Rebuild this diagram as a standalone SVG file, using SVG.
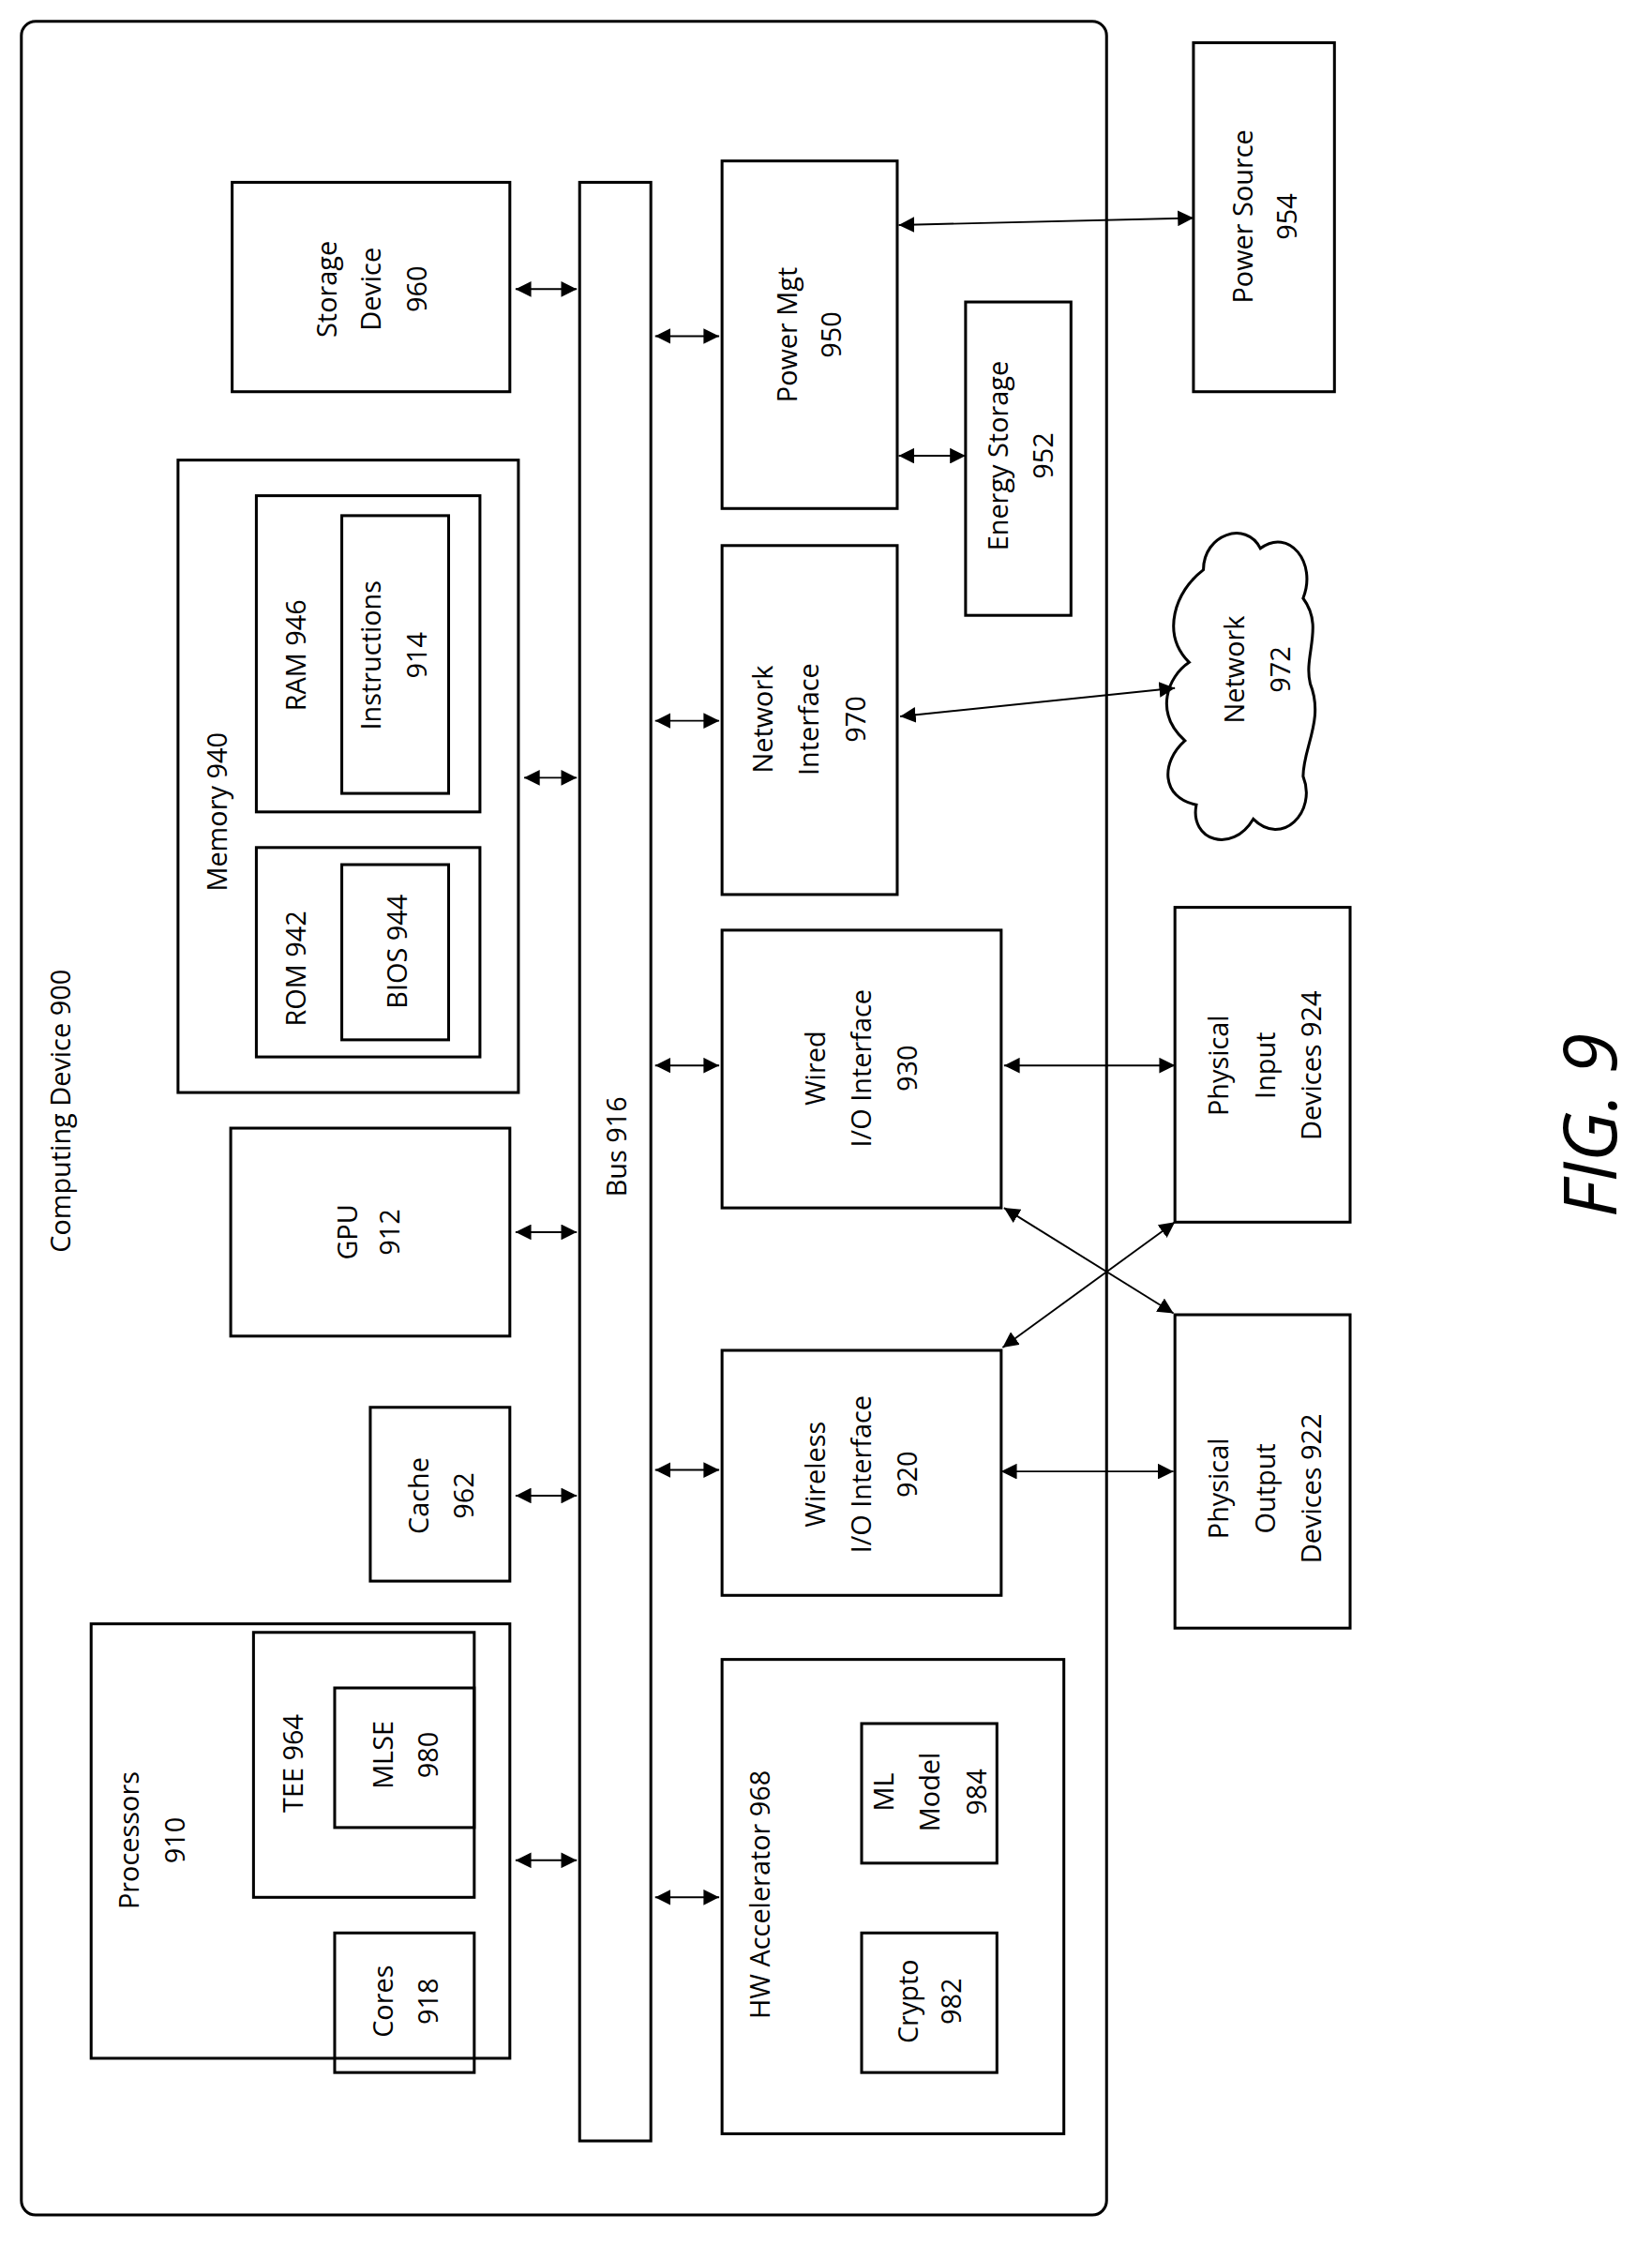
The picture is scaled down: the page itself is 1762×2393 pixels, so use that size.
<svg xmlns="http://www.w3.org/2000/svg" width="1762" height="2393" viewBox="0 0 1762 2393">
<style>
.b{fill:none;stroke:#000;stroke-width:2}
.t{font-family:"Open Sans","Liberation Sans",sans-serif;font-size:19px;text-anchor:middle;dominant-baseline:central;fill:#000}
.c{stroke:#000;stroke-width:1.3;fill:none}
</style>
<defs>
<marker id="a" viewBox="0 0 10 10" refX="10" refY="5" markerWidth="11" markerHeight="11" markerUnits="userSpaceOnUse" orient="auto-start-reverse"><path d="M0,0L10,5L0,10z" fill="#000"/></marker>
</defs>
<rect width="1762" height="2393" fill="#fff"/>
<g transform="scale(1.519)">
<g id="device"><rect class="b" x="15" y="15" width="762" height="1540" rx="10"/><text class="t" transform="translate(42,780) rotate(-90)">Computing Device 900</text></g>
<g id="bus"><rect class="b" x="407" y="128" width="50" height="1375"/><text class="t" transform="translate(432,805) rotate(-90)">Bus 916</text></g>
<g id="storage"><rect class="b" x="163" y="128" width="195" height="147"/><text class="t" transform="translate(229,203) rotate(-90)">Storage</text><text class="t" transform="translate(260,203) rotate(-90)">Device</text><text class="t" transform="translate(292,203) rotate(-90)">960</text></g>
<g id="memory"><rect class="b" x="125" y="323" width="239" height="444"/><text class="t" transform="translate(152,570) rotate(-90)">Memory  940</text>
<rect class="b" x="180" y="348" width="157" height="222"/><text class="t" transform="translate(207,460) rotate(-90)">RAM  946</text>
<rect class="b" x="240" y="362" width="75" height="195"/><text class="t" transform="translate(260,460) rotate(-90)">Instructions</text><text class="t" transform="translate(292,460) rotate(-90)">914</text>
<rect class="b" x="180" y="595" width="157" height="147"/><text class="t" transform="translate(207,680) rotate(-90)">ROM  942</text>
<rect class="b" x="240" y="607" width="75" height="123"/><text class="t" transform="translate(278,668) rotate(-90)">BIOS 944</text></g>
<g id="gpu"><rect class="b" x="162" y="792" width="196" height="146"/><text class="t" transform="translate(243,865) rotate(-90)">GPU</text><text class="t" transform="translate(273,865) rotate(-90)">912</text></g>
<g id="cache"><rect class="b" x="260" y="988" width="98" height="122"/><text class="t" transform="translate(293,1050) rotate(-90)">Cache</text><text class="t" transform="translate(325,1050) rotate(-90)">962</text></g>
<g id="processors"><rect class="b" x="64" y="1140" width="294" height="305"/><text class="t" transform="translate(90,1292) rotate(-90)">Processors</text><text class="t" transform="translate(122,1292) rotate(-90)">910</text>
<rect class="b" x="178" y="1146" width="155" height="186"/><text class="t" transform="translate(205,1238) rotate(-90)">TEE 964</text>
<rect class="b" x="235" y="1185" width="98" height="98"/><text class="t" transform="translate(268,1232) rotate(-90)">MLSE</text><text class="t" transform="translate(300,1232) rotate(-90)">980</text>
<rect class="b" x="235" y="1357" width="98" height="98"/><text class="t" transform="translate(268,1405) rotate(-90)">Cores</text><text class="t" transform="translate(300,1405) rotate(-90)">918</text></g>
<g id="hwacc"><rect class="b" x="507" y="1165" width="240" height="333"/><text class="t" transform="translate(533,1330) rotate(-90)">HW Accelerator  968</text>
<rect class="b" x="605" y="1357" width="95" height="98"/><text class="t" transform="translate(637,1405) rotate(-90)">Crypto</text><text class="t" transform="translate(667,1405) rotate(-90)">982</text>
<rect class="b" x="605" y="1210" width="95" height="98"/><text class="t" transform="translate(620,1258) rotate(-90)">ML</text><text class="t" transform="translate(652,1258) rotate(-90)">Model</text><text class="t" transform="translate(685,1258) rotate(-90)">984</text></g>
<g id="powermgt"><rect class="b" x="507" y="113" width="123" height="244"/><text class="t" transform="translate(552,235) rotate(-90)">Power Mgt</text><text class="t" transform="translate(583,235) rotate(-90)">950</text></g>
<g id="energy"><rect class="b" x="678" y="212" width="74" height="220"/><text class="t" transform="translate(700,320) rotate(-90)">Energy  Storage</text><text class="t" transform="translate(732,320) rotate(-90)">952</text></g>
<g id="netif"><rect class="b" x="507" y="383" width="123" height="245"/><text class="t" transform="translate(535,505) rotate(-90)">Network</text><text class="t" transform="translate(567,505) rotate(-90)">Interface</text><text class="t" transform="translate(600,505) rotate(-90)">970</text></g>
<g id="wired"><rect class="b" x="507" y="653" width="196" height="195"/><text class="t" transform="translate(572,750) rotate(-90)">Wired</text><text class="t" transform="translate(604,750) rotate(-90)">I/O Interface</text><text class="t" transform="translate(636,750) rotate(-90)">930</text></g>
<g id="wireless"><rect class="b" x="507" y="948" width="196" height="172"/><text class="t" transform="translate(572,1035) rotate(-90)">Wireless</text><text class="t" transform="translate(604,1035) rotate(-90)">I/O Interface</text><text class="t" transform="translate(636,1035) rotate(-90)">920</text></g>
<g id="powersrc"><rect class="b" x="838" y="30" width="99" height="245"/><text class="t" transform="translate(872,152) rotate(-90)">Power Source</text><text class="t" transform="translate(903,152) rotate(-90)">954</text></g>
<g id="network"><path class="b" d="M845,400 C845,375 875,365 885,385 C905,370 925,395 915,420 C930,440 915,460 920,480 C930,505 915,525 915,545 C925,570 900,595 880,575 C865,600 835,590 840,565 C815,560 815,535 832,520 C810,500 820,475 835,465 C815,445 825,415 845,400 Z"/><text class="t" transform="translate(866,470) rotate(-90)">Network</text><text class="t" transform="translate(898,470) rotate(-90)">972</text></g>
<g id="physin"><rect class="b" x="825" y="637" width="123" height="221"/><text class="t" transform="translate(855,748) rotate(-90)">Physical</text><text class="t" transform="translate(888,748) rotate(-90)">Input</text><text class="t" transform="translate(920,748) rotate(-90)">Devices 924</text></g>
<g id="physout"><rect class="b" x="825" y="923" width="123" height="220"/><text class="t" transform="translate(855,1045) rotate(-90)">Physical</text><text class="t" transform="translate(888,1045) rotate(-90)">Output</text><text class="t" transform="translate(920,1045) rotate(-90)">Devices 922</text></g>
<text x="1115" y="790" transform="rotate(-90,1115,790)" style="font-family:'Open Sans','Liberation Sans',sans-serif;font-size:52px;font-style:italic;text-anchor:middle;dominant-baseline:central">FIG. 9</text>
<g id="connectors" marker-start="url(#a)">
<line class="c" x1="362" y1="203" x2="405" y2="203" marker-start="url(#a)" marker-end="url(#a)"/>
<line class="c" x1="368" y1="546" x2="405" y2="546" marker-start="url(#a)" marker-end="url(#a)"/>
<line class="c" x1="362" y1="865" x2="405" y2="865" marker-start="url(#a)" marker-end="url(#a)"/>
<line class="c" x1="362" y1="1050" x2="405" y2="1050" marker-start="url(#a)" marker-end="url(#a)"/>
<line class="c" x1="362" y1="1306" x2="405" y2="1306" marker-start="url(#a)" marker-end="url(#a)"/>
<line class="c" x1="460" y1="236" x2="505" y2="236" marker-start="url(#a)" marker-end="url(#a)"/>
<line class="c" x1="460" y1="506" x2="505" y2="506" marker-start="url(#a)" marker-end="url(#a)"/>
<line class="c" x1="460" y1="748" x2="505" y2="748" marker-start="url(#a)" marker-end="url(#a)"/>
<line class="c" x1="460" y1="1032" x2="505" y2="1032" marker-start="url(#a)" marker-end="url(#a)"/>
<line class="c" x1="460" y1="1332" x2="505" y2="1332" marker-start="url(#a)" marker-end="url(#a)"/>
<line class="c" x1="838" y1="153" x2="631" y2="158" marker-end="url(#a)"/>
<line class="c" x1="678" y1="320" x2="631" y2="320" marker-end="url(#a)"/>
<line class="c" x1="632" y1="503" x2="825" y2="483" marker-start="url(#a)" marker-end="url(#a)"/>
<line class="c" x1="825" y1="748" x2="705" y2="748" marker-end="url(#a)"/>
<line class="c" x1="705" y1="848" x2="824" y2="922" marker-end="url(#a)"/>
<line class="c" x1="825" y1="858" x2="704" y2="946" marker-end="url(#a)"/>
<line class="c" x1="703" y1="1033" x2="824" y2="1033" marker-end="url(#a)"/>
</g>
</g>
</svg>
